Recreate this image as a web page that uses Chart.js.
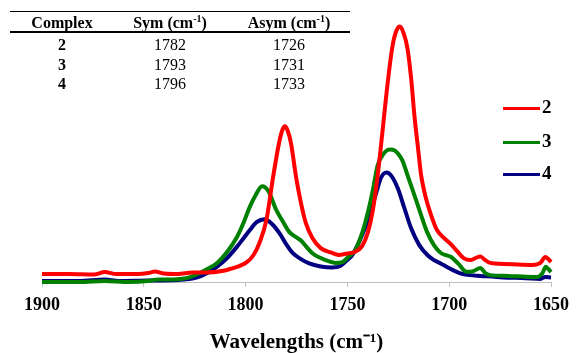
<!DOCTYPE html>
<html>
<head>
<meta charset="utf-8">
<script src="https://cdn.jsdelivr.net/npm/chart.js@4/dist/chart.umd.min.js"></script>
<style>
  html, body { margin: 0; padding: 0; background: #fff; }
  #wrap { position: relative; width: 577px; height: 353px; overflow: hidden; font-family: "Liberation Serif", "Times New Roman", serif; }
  #c { position: absolute; left: 0; top: 0; }
  .t { position: absolute; font-size: 16px; line-height: 18px; color: #000; white-space: nowrap; transform: translateX(-50%); }
  .b { font-weight: bold; }
  sup { font-size: 10px; line-height: 0; vertical-align: 6px; }
  .rule { position: absolute; left: 10px; width: 340px; background: #000; }
  .lg { position: absolute; height: 3px; width: 37px; left: 503px; }
  .lgt { position: absolute; left: 542px; font-size: 19px; font-weight: bold; line-height: 20px; }
</style>
</head>
<body>
<div id="wrap">
  <canvas id="c" width="577" height="353"></canvas>
  <div id="overlay"></div>
</div>
<script>
// ---- data ----
const complexes = ["2", "3", "4"];
const symPeaks  = ["1782", "1793", "1796"];
const asymPeaks = ["1726", "1731", "1733"];
const tableHeaders = ["Complex", "Sym (cm<sup>-1</sup>)", "Asym (cm<sup>-1</sup>)"];

const seriesLabels = ["2", "3", "4"];
const seriesColors = ["#ff0000", "#008000", "#000080"];

const waveRed = [1900,1886.6,1874.5,1869.2,1863.4,1852.7,1847.9,1844.5,1840.1,1833.3,1826.1,1818.8,1811.6,1807.7,1799.4,1796.1,1793.2,1789.8,1786.5,1783.6,1782.0,1780.7,1779.4,1777.7,1775.2,1772.8,1770.4,1767.2,1763.1,1757.5,1754.4,1750.1,1746.2,1742.8,1739.9,1737.5,1735.1,1732.6,1730.2,1727.8,1725.9,1724.2,1722.5,1720.5,1718.6,1717.1,1715.2,1713.8,1711.8,1708.9,1706.0,1702.6,1699.2,1695.8,1692.9,1689.6,1687.1,1684.7,1682.3,1679.9,1673.6,1666.3,1659.0,1655.2,1652.8,1651.3,1650];
const absRed  = [0.031,0.031,0.029,0.039,0.031,0.031,0.035,0.041,0.033,0.031,0.037,0.037,0.043,0.051,0.078,0.106,0.153,0.243,0.412,0.545,0.596,0.612,0.596,0.545,0.412,0.310,0.231,0.173,0.133,0.114,0.106,0.112,0.119,0.141,0.196,0.282,0.420,0.604,0.784,0.929,0.988,1.004,0.980,0.918,0.792,0.655,0.518,0.420,0.341,0.263,0.204,0.173,0.149,0.118,0.094,0.086,0.094,0.100,0.086,0.075,0.071,0.069,0.067,0.075,0.098,0.090,0.078];

const waveGreen = [1900,1881.7,1869.2,1857.5,1847.9,1843.0,1835.8,1828.5,1823.7,1818.8,1814.0,1809.1,1804.3,1800.9,1798.0,1795.1,1791.9,1788.8,1784.9,1781.5,1778.6,1775.2,1772.8,1770.4,1767.2,1763.1,1759.3,1755.9,1752.5,1749.6,1746.2,1742.8,1739.9,1737.5,1735.1,1732.1,1730.4,1728.8,1727.0,1725.2,1723.0,1720.5,1717.1,1713.8,1710.9,1707.5,1704.1,1701.7,1699.2,1695.4,1691.5,1688.1,1684.7,1682.3,1679.9,1671.2,1662.4,1656.6,1654.2,1652.6,1651.3,1650];
const absGreen  = [0.000,0.000,0.004,0.000,0.004,0.010,0.010,0.016,0.031,0.051,0.075,0.118,0.176,0.235,0.294,0.341,0.376,0.357,0.282,0.235,0.197,0.176,0.163,0.141,0.113,0.094,0.082,0.075,0.078,0.098,0.125,0.192,0.275,0.361,0.459,0.505,0.518,0.521,0.518,0.505,0.478,0.420,0.341,0.263,0.197,0.145,0.114,0.106,0.099,0.071,0.040,0.043,0.055,0.035,0.027,0.024,0.021,0.020,0.035,0.060,0.051,0.039];

const waveBlue = [1900,1881.7,1869.2,1862.4,1847.9,1833.3,1823.7,1818.8,1814.0,1809.1,1804.3,1800.9,1797.9,1794.6,1790.6,1786.9,1783.3,1780.1,1776.8,1772.8,1768.8,1763.1,1757.5,1753.5,1750.1,1747.6,1744.3,1741.4,1738.4,1735.7,1733.6,1730.8,1728.3,1725.2,1722.0,1718.7,1714.7,1710.7,1707.5,1704.2,1700.2,1694.5,1690.0,1684.7,1673.6,1662.3,1655.2,1652.8,1650];
const absBlue  = [0.004,0.004,0.010,0.004,0.006,0.008,0.018,0.035,0.060,0.094,0.138,0.173,0.204,0.235,0.247,0.227,0.191,0.149,0.113,0.090,0.073,0.061,0.057,0.063,0.086,0.106,0.157,0.211,0.282,0.354,0.408,0.430,0.416,0.367,0.290,0.211,0.145,0.106,0.086,0.073,0.055,0.034,0.027,0.024,0.018,0.015,0.012,0.020,0.018];

const xTickMin = 1650, xTickMax = 1900, xTickStep = 50;
const xTitle = "Wavelengths (cm\u207B\u00B9)";

// ---- build ----
const toPts = (xs, ys) => xs.map((x, i) => ({ x: x, y: ys[i] }));
const seriesWaves = [waveRed, waveGreen, waveBlue];
const seriesAbs = [absRed, absGreen, absBlue];

const datasets = seriesLabels.map((lab, i) => ({
  label: lab,
  data: toPts(seriesWaves[i], seriesAbs[i]),
  borderColor: seriesColors[i],
  backgroundColor: seriesColors[i],
  borderWidth: 4,
  pointRadius: 0,
  fill: false,
  cubicInterpolationMode: 'monotone',
  clip: false
}));

new Chart(document.getElementById('c'), {
  type: 'line',
  data: { datasets },
  options: {
    responsive: false,
    animation: false,
    events: [],
    layout: { padding: { left: 42, right: 18, top: 2, bottom: 0 } },
    plugins: { legend: { display: false }, tooltip: { enabled: false } },
    scales: {
      x: {
        type: 'linear',
        reverse: true,
        min: xTickMin,
        max: xTickMax,
        afterFit: (axis) => { axis.height = 71; },
        ticks: {
          stepSize: xTickStep,
          padding: 8,
          color: '#000',
          font: { family: 'Liberation Serif', size: 18, weight: 'bold' },
          callback: (v) => String(v),
          maxRotation: 0
        },
        grid: { display: true, drawOnChartArea: false, drawTicks: true, tickLength: 5, color: '#bfbfbf', lineWidth: 1 },
        border: { display: true, color: '#bfbfbf', width: 1 },
        title: {
          display: true,
          text: xTitle,
          color: '#000',
          font: { family: 'Liberation Serif', size: 21, weight: 'bold', lineHeight: 1.0 },
          padding: { top: 0, bottom: 0 }
        }
      },
      y: {
        display: false,
        min: 0,
        max: 1.1
      }
    }
  }
});

// ---- overlay: table and legend as real text ----
const ov = document.getElementById('overlay');
let html = '';
html += '<div class="rule" style="top:11px;height:1px"></div>';
html += '<div class="rule" style="top:31px;height:2px"></div>';
const colX = [62, 170, 289];
tableHeaders.forEach((h, i) => { html += `<div class="t b" style="left:${colX[i]}px;top:14px">${h}</div>`; });
const rowTop = [35.5, 55.5, 75];
complexes.forEach((c, r) => {
  html += `<div class="t b" style="left:${colX[0]}px;top:${rowTop[r]}px">${c}</div>`;
  html += `<div class="t" style="left:${colX[1]}px;top:${rowTop[r]}px">${symPeaks[r]}</div>`;
  html += `<div class="t" style="left:${colX[2]}px;top:${rowTop[r]}px">${asymPeaks[r]}</div>`;
});
const legY = [108, 142, 174];
seriesLabels.forEach((lab, i) => {
  html += `<div class="lg" style="top:${legY[i] - 1.5}px;background:${seriesColors[i]}"></div>`;
  html += `<div class="lgt" style="top:${legY[i] - 11}px">${lab}</div>`;
});
ov.innerHTML = html;
</script>
</body>
</html>
